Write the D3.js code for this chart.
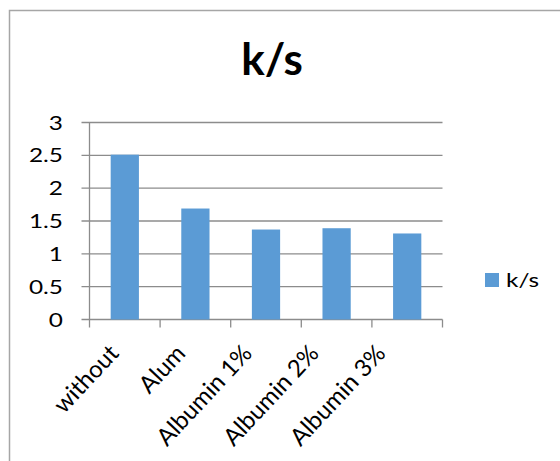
<!DOCTYPE html>
<html>
<head>
<meta charset="utf-8">
<script src="https://cdn.jsdelivr.net/npm/d3@7.9.0/dist/d3.min.js"></script>
<style>
  body { margin: 0; background: #fff; }
  svg { display: block; font-family: Lato, "Open Sans", sans-serif; }
</style>
</head>
<body>
<svg width="560" height="461"></svg>
<script>
const categories = ['without', 'Alum', 'Albumin 1%', 'Albumin 2%', 'Albumin 3%'];
const values = [2.51, 1.69, 1.37, 1.39, 1.31];
const yTicks = [0, 0.5, 1, 1.5, 2, 2.5, 3];
const seriesName = 'k/s';

const svg = d3.select('svg');
const color = '#5b9bd5';
const stretch = 1.25;   // the small text in the source is drawn wide
const labelSize = 19.5;

// chart frame
svg.append('path')
    .attr('d', 'M9.5,470 V10.5 H570')
    .attr('fill', 'none')
    .attr('stroke', '#a6a6a6')
    .attr('stroke-width', 1.5);

const plotLeft = 89.5, plotRight = 442.5, plotTop = 122.5, plotBottom = 319.5;

let x = d3.scaleBand()
    .domain(categories)
    .range([plotLeft, plotRight])
    .paddingInner(0.6)
    .paddingOuter(0.3);

let y = d3.scaleLinear().domain([0, 3]).range([plotBottom, plotTop]);

// the rotated labels sit a little tighter than the bars
let labelX = d3.scalePoint()
    .domain(categories)
    .range([120, 387]);

// gridlines
svg.append('g')
    .selectAll('line')
    .data(yTicks)
    .join('line')
    .attr('x1', plotLeft - 8)
    .attr('x2', plotRight)
    .attr('y1', d => y(d))
    .attr('y2', d => y(d))
    .attr('stroke', '#8c8c8c')
    .attr('stroke-width', 1.3);

// y axis line
svg.append('line')
    .attr('x1', plotLeft).attr('x2', plotLeft)
    .attr('y1', plotTop).attr('y2', plotBottom)
    .attr('stroke', '#8c8c8c')
    .attr('stroke-width', 1.3);

// y labels
svg.append('g')
    .selectAll('text')
    .data(yTicks)
    .join('text')
    .attr('transform', d => `translate(63,${y(d)}) scale(${stretch},1)`)
    .attr('dy', '0.36em')
    .attr('text-anchor', 'end')
    .attr('font-size', labelSize)
    .attr('fill', '#000')
    .text(d => d);

// x tick marks at band edges
let edges = categories.map(c => x(c) - x.step() * x.paddingInner() / 2);
edges.push(plotRight);
edges[0] = plotLeft;
svg.append('g')
    .selectAll('line')
    .data(edges)
    .join('line')
    .attr('x1', d => d).attr('x2', d => d)
    .attr('y1', plotBottom).attr('y2', plotBottom + 8)
    .attr('stroke', '#8c8c8c')
    .attr('stroke-width', 1.3);

// bars
svg.append('g')
    .selectAll('rect')
    .data(values)
    .join('rect')
    .attr('x', (d, i) => x(categories[i]))
    .attr('width', x.bandwidth())
    .attr('y', d => y(d))
    .attr('height', d => plotBottom - y(d))
    .attr('fill', color);

// x labels
svg.append('g')
    .selectAll('text')
    .data(categories)
    .join('text')
    .attr('transform', d => `translate(${labelX(d)},${plotBottom + 35}) rotate(-47)`)
    .attr('text-anchor', 'end')
    .attr('font-size', 24)
    .attr('fill', '#000')
    .text(d => d);

// title
svg.append('text')
    .attr('x', 272)
    .attr('y', 75)
    .attr('text-anchor', 'middle')
    .attr('font-size', 44)
    .attr('font-weight', 'bold')
    .attr('fill', '#000')
    .text(seriesName);

// legend
svg.append('rect')
    .attr('x', 485).attr('y', 273)
    .attr('width', 14).attr('height', 14)
    .attr('fill', color);
svg.append('text')
    .attr('transform', `translate(506,280) scale(${stretch},1)`)
    .attr('dy', '0.36em')
    .attr('font-size', labelSize)
    .attr('fill', '#000')
    .text(seriesName);
</script>
</body>
</html>
